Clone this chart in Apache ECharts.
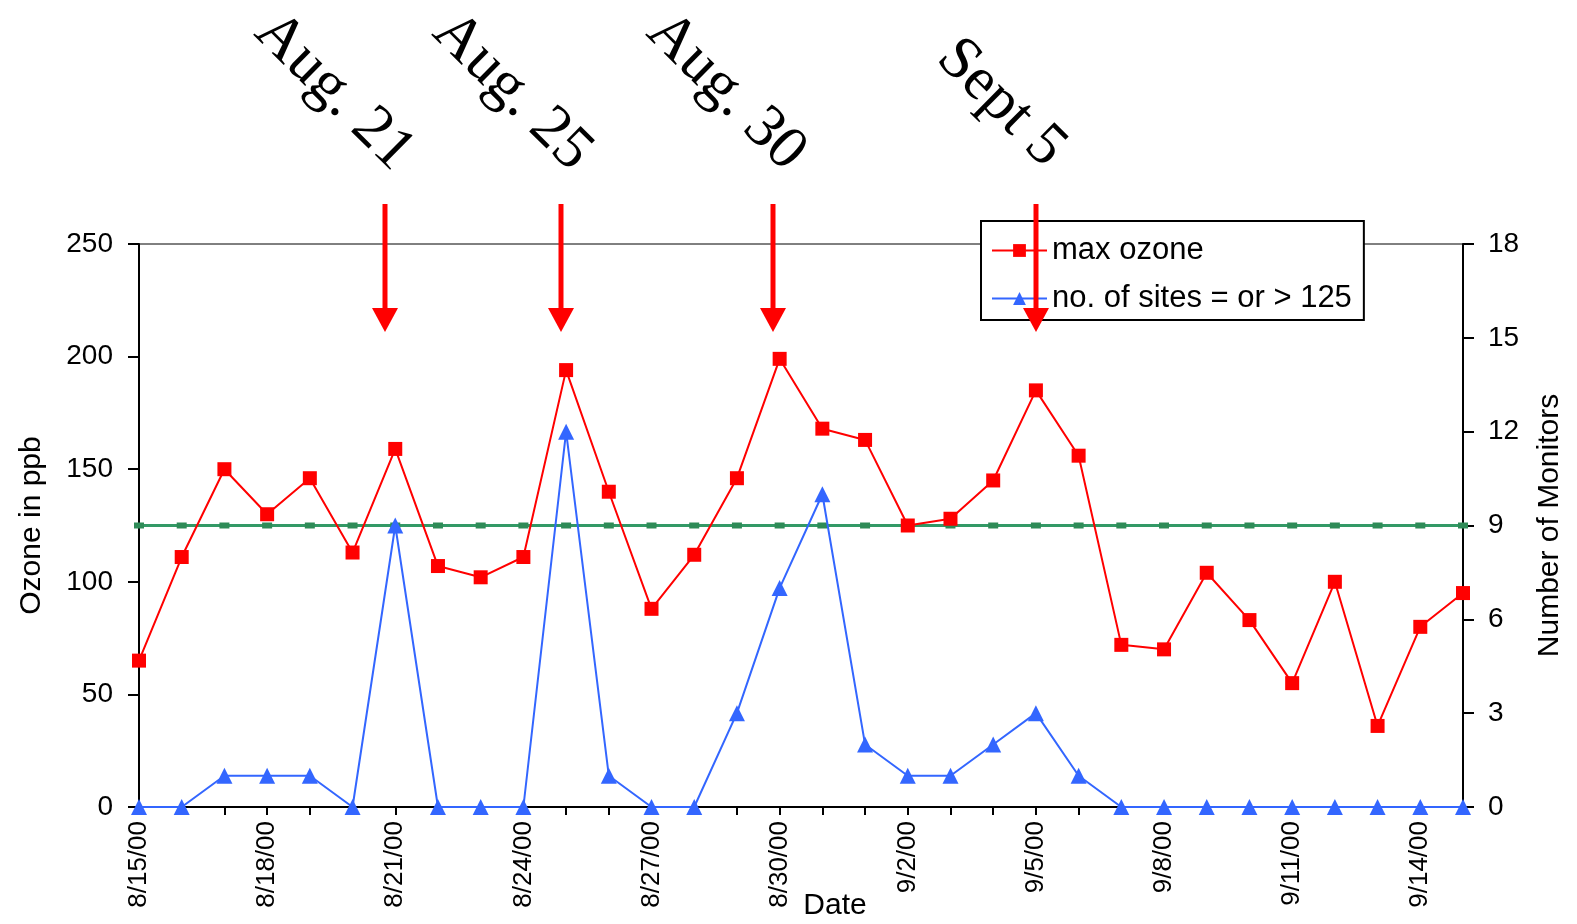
<!DOCTYPE html>
<html>
<head>
<meta charset="utf-8">
<script src="https://cdn.jsdelivr.net/npm/echarts@6/dist/echarts.min.js"></script>
<style>
  html, body { margin: 0; padding: 0; background: #fff; }
  #chart { width: 1577px; height: 924px; }
</style>
</head>
<body>
<div id="chart"></div>
<script>
// categories: one point per day
const dates = ['8/15/00', '8/16/00', '8/17/00', '8/18/00', '8/19/00', '8/20/00', '8/21/00', '8/22/00',
               '8/23/00', '8/24/00', '8/25/00', '8/26/00', '8/27/00', '8/28/00', '8/29/00', '8/30/00',
               '8/31/00', '9/1/00', '9/2/00', '9/3/00', '9/4/00', '9/5/00', '9/6/00', '9/7/00',
               '9/8/00', '9/9/00', '9/10/00', '9/11/00', '9/12/00', '9/13/00', '9/14/00', '9/15/00'];

// max ozone (ppb), left axis
const maxOzone = [65, 111, 150, 130, 146, 113, 159, 107, 102, 111, 194, 140, 88, 112, 146, 199,
                  168, 163, 125, 128, 145, 185, 156, 72, 70, 104, 83, 55, 100, 36, 80, 95];

// number of monitors at or above 125 ppb, right axis
const sitesOver125 = [0, 0, 1, 1, 1, 0, 9, 0, 0, 0, 12, 1, 0, 0, 3, 7,
                      10, 2, 1, 1, 2, 3, 1, 0, 0, 0, 0, 0, 0, 0, 0, 0];

// 125 ppb standard
const standard = [125, 125, 125, 125, 125, 125, 125, 125, 125, 125, 125, 125, 125, 125, 125, 125,
                  125, 125, 125, 125, 125, 125, 125, 125, 125, 125, 125, 125, 125, 125, 125, 125];

// callouts above the plot
const callouts = ['Aug. 21', 'Aug. 25', 'Aug. 30', 'Sept 5'];

const FONT = 'Liberation Sans';
const chart = echarts.init(document.getElementById('chart'));

const textPos = [[334, 92], [512, 92], [726, 92], [1001, 103]];
const arrowX = [385, 561, 773, 1036];

const graphics = [];
callouts.forEach(function (label, i) {
  graphics.push({
    type: 'text', x: textPos[i][0], y: textPos[i][1], rotation: -0.78, z: 100,
    style: { text: label, font: '61px "Liberation Serif"', fill: '#000', align: 'center', verticalAlign: 'middle' }
  });
  graphics.push({
    type: 'line', z: 100,
    shape: { x1: arrowX[i], y1: 204, x2: arrowX[i], y2: 310 },
    style: { stroke: '#ff0000', lineWidth: 5 }
  });
  graphics.push({
    type: 'polygon', z: 100,
    shape: { points: [[arrowX[i] - 13, 308], [arrowX[i] + 13, 308], [arrowX[i], 332]] },
    style: { fill: '#ff0000' }
  });
});

const option = {
  backgroundColor: '#fff',
  animation: false,
  textStyle: { fontFamily: FONT, color: '#000' },
  grid: {
    left: 139, right: 114, top: 244, bottom: 117,
    containLabel: false,
    outerBoundsMode: 'none',
    show: true, borderColor: '#000', borderWidth: 1
  },
  legend: {
    data: ['max ozone', 'no. of sites = or > 125'],
    orient: 'vertical',
    left: 981, top: 221,
    padding: [14, 12, 6, 10],
    itemGap: 17,
    itemWidth: 55, itemHeight: 16,
    borderColor: '#000', borderWidth: 2,
    backgroundColor: '#fff',
    textStyle: { fontSize: 31, fontFamily: FONT, color: '#000' }
  },
  xAxis: {
    type: 'category',
    data: dates,
    boundaryGap: false,
    name: 'Date',
    nameLocation: 'middle',
    nameGap: 84,
    nameMoveOverlap: false,
    nameTextStyle: { fontSize: 30, fontFamily: FONT, color: '#000', padding: [0, 0, 0, 68] },
    axisLine: { lineStyle: { color: '#000', width: 2 } },
    axisTick: { show: true, interval: 0, length: 8, lineStyle: { color: '#000', width: 2 } },
    axisLabel: { interval: 2, rotate: 90, margin: 14, fontSize: 26, fontFamily: FONT, color: '#000' },
    splitLine: { show: false }
  },
  yAxis: [
    {
      type: 'value', position: 'left', min: 0, max: 250, interval: 50,
      name: 'Ozone in ppb', nameLocation: 'middle', nameGap: 92, nameRotate: 90, nameMoveOverlap: false,
      nameTextStyle: { fontSize: 30, fontFamily: FONT, color: '#000' },
      axisLine: { show: true, lineStyle: { color: '#000', width: 2 } },
      axisTick: { show: true, length: 11, lineStyle: { color: '#000', width: 2 } },
      axisLabel: { margin: 26, fontSize: 28, fontFamily: FONT, color: '#000' },
      splitLine: { show: false }
    },
    {
      type: 'value', position: 'right', min: 0, max: 18, interval: 3,
      name: 'Number of Monitors', nameLocation: 'middle', nameGap: 72, nameRotate: 90, nameMoveOverlap: false,
      nameTextStyle: { fontSize: 30, fontFamily: FONT, color: '#000' },
      axisLine: { show: true, lineStyle: { color: '#000', width: 2 } },
      axisTick: { show: true, length: 11, lineStyle: { color: '#000', width: 2 } },
      axisLabel: { margin: 25, fontSize: 28, fontFamily: FONT, color: '#000' },
      splitLine: { show: false }
    }
  ],
  series: [
    {
      name: 'standard',
      type: 'line',
      yAxisIndex: 0,
      data: standard,
      symbol: 'rect',
      symbolSize: [10, 6],
      showAllSymbol: true,
      itemStyle: { color: '#2e8b57' },
      lineStyle: { color: '#339966', width: 3 },
      z: 2
    },
    {
      name: 'no. of sites = or > 125',
      type: 'line',
      yAxisIndex: 1,
      data: sitesOver125,
      symbol: 'triangle',
      symbolSize: 16,
      showAllSymbol: true,
      itemStyle: { color: '#3366ff' },
      lineStyle: { color: '#3366ff', width: 2 },
      z: 3
    },
    {
      name: 'max ozone',
      type: 'line',
      yAxisIndex: 0,
      data: maxOzone,
      symbol: 'rect',
      symbolSize: 14,
      showAllSymbol: true,
      itemStyle: { color: '#ff0000' },
      lineStyle: { color: '#ff0000', width: 2 },
      z: 4
    }
  ],
  graphic: graphics
};

chart.setOption(option);
</script>
</body>
</html>
